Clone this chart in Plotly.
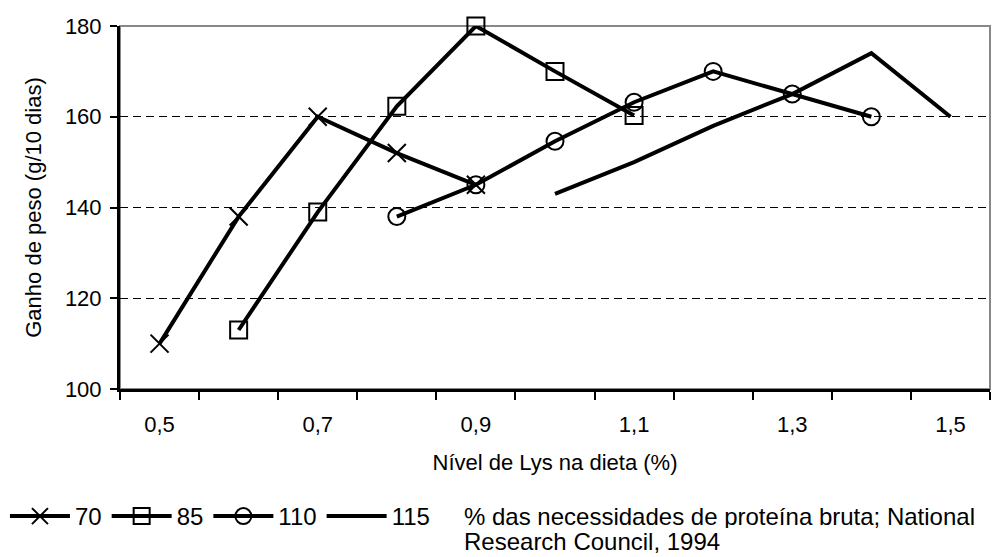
import plotly.graph_objects as go

# Data
x70 = [0.5, 0.6, 0.7, 0.8, 0.9]
y70 = [110, 138, 160, 152, 145]
x85 = [0.6, 0.7, 0.8, 0.9, 1.0, 1.1]
y85 = [113, 139, 162.3, 180, 170, 160.3]
x110 = [0.8, 0.9, 1.0, 1.1, 1.2, 1.3, 1.4]
y110 = [138, 145, 154.6, 163.2, 170, 165, 160]
x115 = [1.0, 1.1, 1.2, 1.3, 1.4, 1.5]
y115 = [143, 150, 158, 165, 174, 160]

series_names = ["70", "85", "110", "115"]
xtick_vals = [0.5, 0.7, 0.9, 1.1, 1.3, 1.5]
xtick_text = ["0,5", "0,7", "0,9", "1,1", "1,3", "1,5"]
xboundaries = [0.45 + 0.1 * i for i in range(12)]
ytick_vals = [100, 120, 140, 160, 180]
note_lines = ["% das necessidades de proteína bruta; National",
              "Research Council, 1994"]

FONT = "Liberation Sans, Arial, sans-serif"
FS = 22
FSL = 24

fig = go.Figure()
specs = [
    (x70, y70, "x-thin-open", 18),
    (x85, y85, "square-open", 17),
    (x110, y110, "circle-open", 17),
    (x115, y115, None, 0),
]
for (xs, ys, sym, sz), name in zip(specs, series_names):
    if sym:
        fig.add_trace(go.Scatter(
            x=xs, y=ys, name=name, mode="lines+markers",
            line=dict(color="black", width=4),
            marker=dict(symbol=sym, size=sz, color="black",
                        line=dict(color="black", width=2)),
            cliponaxis=False,
        ))
    else:
        fig.add_trace(go.Scatter(
            x=xs, y=ys, name=name, mode="lines",
            line=dict(color="black", width=4),
            cliponaxis=False,
        ))

annotations = []
for i, (txt, ypx) in enumerate(zip(note_lines, [516, 541])):
    annotations.append(dict(
        text=txt, xref="paper", yref="paper",
        x=(463 - 120) / 870, y=(389 - ypx) / 363,
        xanchor="left", yanchor="middle", align="left", showarrow=False,
        height=24, borderpad=0, font=dict(size=FSL)))

fig.update_layout(
    width=992, height=557,
    margin=dict(l=120, r=2, t=26, b=168),
    paper_bgcolor="white", plot_bgcolor="white",
    font=dict(family=FONT, size=FS, color="black"),
    showlegend=True,
    legend=dict(
        orientation="h", xref="container", yref="container",
        x=0.005, y=1 - 494 / 557, xanchor="left", yanchor="top",
        font=dict(size=FSL), itemwidth=60, tracegroupgap=0,
        bgcolor="rgba(0,0,0,0)",
    ),
    xaxis=dict(
        range=[0.45, 1.55], showgrid=False, zeroline=False,
        showline=True, linecolor="black", linewidth=3,
        tickmode="array", tickvals=xtick_vals, ticktext=xtick_text,
        ticks="", ticklabelstandoff=14,
        minor=dict(tickmode="array", tickvals=xboundaries, ticks="outside",
                   ticklen=8, tickwidth=2, tickcolor="black", showgrid=False),
        title=dict(text="Nível de Lys na dieta (%)", standoff=19,
                   font=dict(size=FS)),
    ),
    yaxis=dict(
        range=[100, 180], zeroline=False,
        showline=True, linecolor="black", linewidth=3,
        tickmode="array", tickvals=ytick_vals,
        ticks="outside", ticklen=7, tickwidth=2, tickcolor="black",
        ticklabelstandoff=4,
        showgrid=True, gridcolor="black", gridwidth=1, griddash="8px,5px",
        title=dict(text="Ganho de peso (g/10 dias)", standoff=18,
                   font=dict(size=FS)),
    ),
    shapes=[
        dict(type="rect", xref="paper", yref="paper", x0=0, x1=1, y0=0, y1=1,
             line=dict(color="#888888", width=2), layer="between"),
    ],
    annotations=annotations,
)

fig.write_html("out.html")
